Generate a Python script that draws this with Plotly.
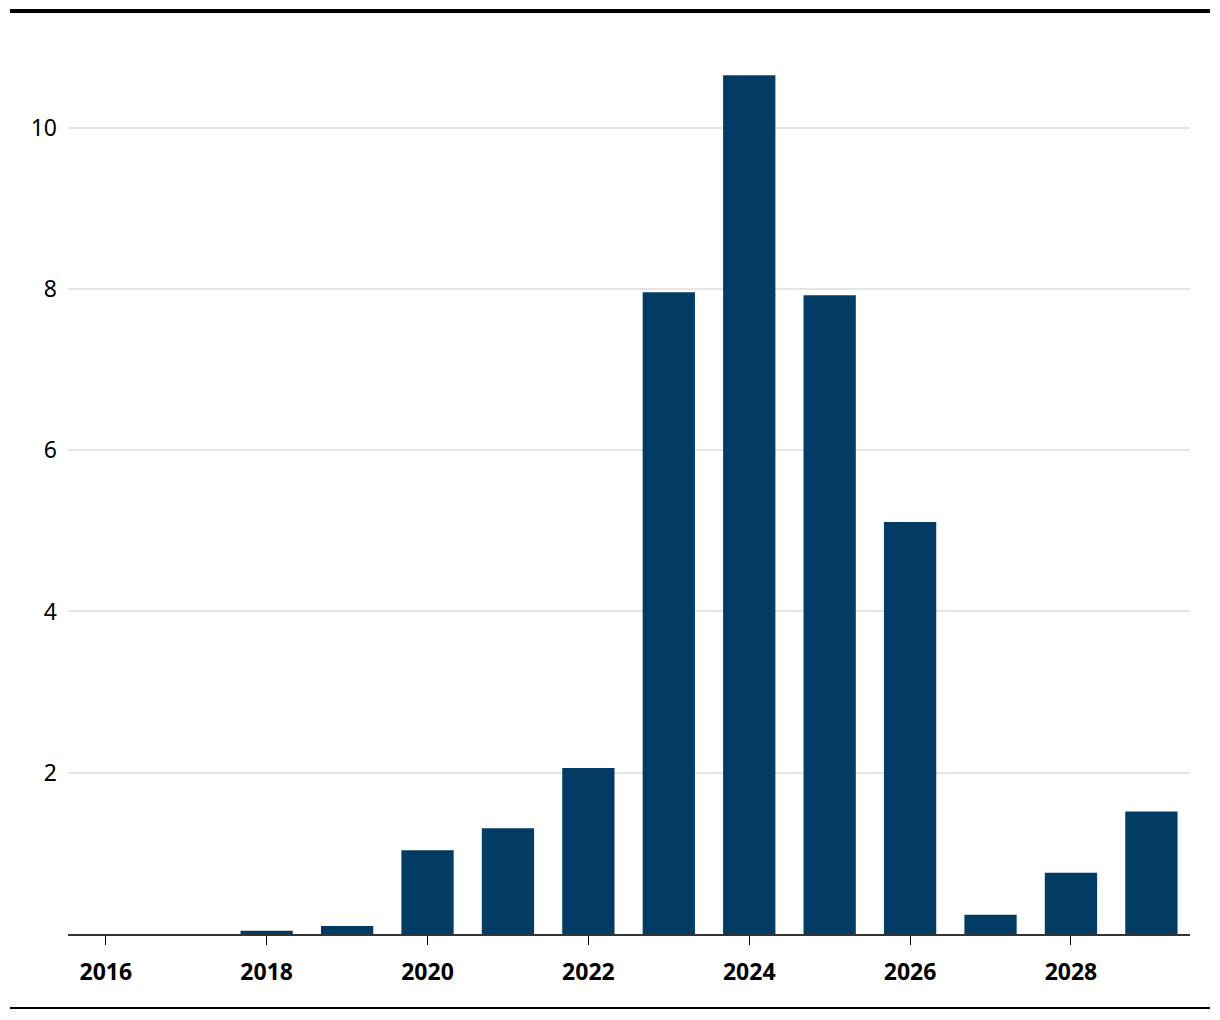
import plotly.graph_objects as go

# yearly values
years = [2016, 2017, 2018, 2019, 2020, 2021, 2022, 2023, 2024, 2025, 2026, 2027, 2028, 2029]
values = [0, 0, 0.04, 0.1, 1.04, 1.31, 2.06, 7.96, 10.65, 7.92, 5.11, 0.24, 0.76, 1.52]

x_ticks = [2016, 2018, 2020, 2022, 2024, 2026, 2028]
y_ticks = [2, 4, 6, 8, 10]

bar_color = "#023b63"

fig = go.Figure()
fig.add_trace(go.Bar(x=years, y=values, width=0.65, marker_color=bar_color,
                     marker_line_width=0, hoverinfo="x+y"))

# page body adds 8px on the left and top, so the figure is 8px smaller
fig.update_layout(
    width=1212, height=1012,
    margin=dict(l=60, r=30, t=39, b=86),
    plot_bgcolor="white", paper_bgcolor="white",
    showlegend=False,
    font=dict(family="Noto Sans, Source Sans Pro, sans-serif", color="black"),
    xaxis=dict(range=[2015.53, 2029.48], tickvals=x_ticks,
               ticks="outside", ticklen=9, tickcolor="black", tickwidth=1,
               showline=True, linecolor="#333333", linewidth=2,
               showgrid=False, zeroline=False,
               tickfont=dict(size=23, weight="bold"), ticklabelstandoff=7),
    yaxis=dict(range=[0, 11], tickvals=y_ticks,
               showgrid=True, gridcolor="#e5e5e5", gridwidth=1.5,
               zeroline=False, showline=False, ticks="",
               tickfont=dict(size=23), ticklabelstandoff=10),
    shapes=[
        dict(type="line", xref="paper", yref="paper",
             x0=-0.0517, x1=1.0178, y0=1.0405, y1=1.0405,
             line=dict(color="black", width=4)),
        dict(type="line", xref="paper", yref="paper",
             x0=-0.0517, x1=1.0178, y0=-0.0835, y1=-0.0835,
             line=dict(color="black", width=2)),
    ],
)

fig.write_html("out.html")
